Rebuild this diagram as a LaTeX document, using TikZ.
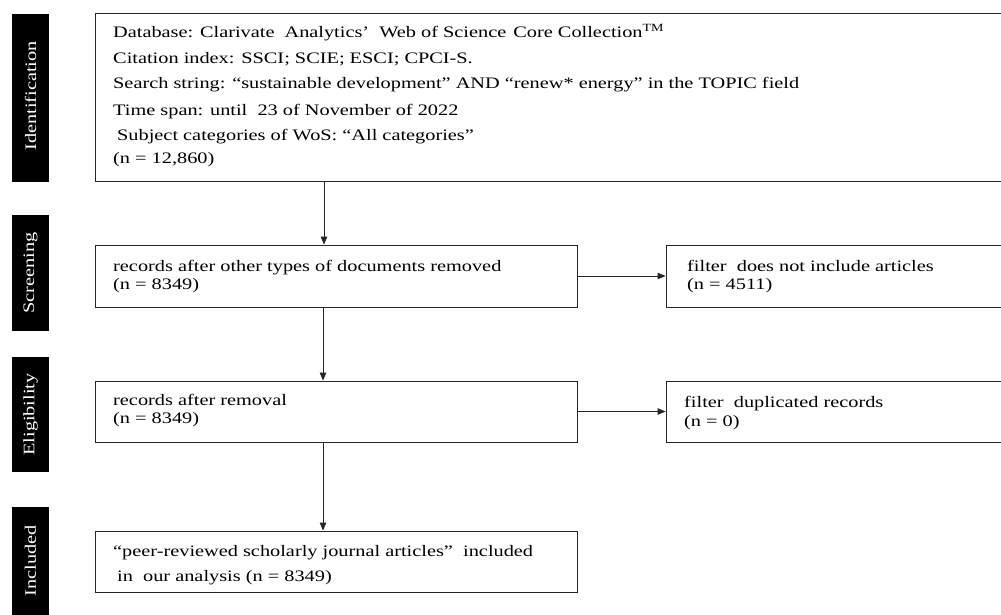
\documentclass[tikz,border=0pt]{standalone}
\usepackage{fontspec}
\setmainfont{Liberation Serif}[FakeStretch=1.27]
\usetikzlibrary{arrows.meta}
\begin{document}
\begin{tikzpicture}[x=1pt,y=-1pt,
  box/.style={draw=black!85, line width=0.8pt, inner sep=0pt},
  lbl/.style={fill=black, inner sep=0pt},
  lbltxt/.style={text=white, rotate=90, inner sep=0pt, font=\fontsize{16}{18}\selectfont},
  txt/.style={anchor=base west, inner sep=0pt, font=\fontsize{16}{18}\selectfont},
  arr/.style={line width=0.8pt, draw=black!85, -{Triangle[length=8pt,width=6.5pt]}}]
\useasboundingbox (0,0) rectangle (1001,615);
% side labels
\node[lbl, minimum width=37pt, minimum height=168pt] (Lid) at (30.5,98) {};
\node[lbltxt] (Tid) at (30.5,96) {Identification};
\node[lbl, minimum width=37pt, minimum height=116pt] (Lsc) at (30.5,273) {};
\node[lbltxt] (Tsc) at (30.5,273) {Screening};
\node[lbl, minimum width=37pt, minimum height=115pt] (Lel) at (30.5,414.5) {};
\node[lbltxt] (Tel) at (30.5,414.5) {Eligibility};
\node[lbl, minimum width=37pt, minimum height=115pt] (Lin) at (30.5,564.5) {};
\node[lbltxt] (Tin) at (30.5,561) {Included};
% boxes
\node[box, minimum width=915pt, minimum height=168pt] (id) at (552.5,97) {};
\node[box, minimum width=482pt, minimum height=62pt] (scr) at (336,276) {};
\node[box, minimum width=344pt, minimum height=62pt] (fa) at (838,276) {};
\node[box, minimum width=482pt, minimum height=61pt] (elg) at (336,411.5) {};
\node[box, minimum width=344pt, minimum height=61pt] (fd) at (838,411.5) {};
\node[box, minimum width=482pt, minimum height=61pt] (inc) at (336,561.5) {};
% texts
\node[txt] (t1) at (113,38) {Database: Clarivate\hspace{10pt}Analytics’\hspace{5pt} Web of Science\hspace{2pt} Core Collection\textsuperscript{\fontsize{11}{12}\selectfont TM}};
\node[txt] (t2) at (113,64) {Citation index: SSCI; SCIE; ESCI; CPCI-S.};
\node[txt] (t3) at (113,89) {Search string: “sustainable development” AND “renew* energy” in the TOPIC field};
\node[txt] (t4) at (113,116) {Time span: until\ \ 23 of November of 2022};
\node[txt] (t5) at (117,140) {Subject categories of WoS: “All categories”};
\node[txt] (t6) at (113,164) {(n = 12,860)};
\node[txt] (s1) at (113,271.5) {records after other types of documents removed};
\node[txt] (s2) at (113,289) {(n = 8349)};
\node[txt] (f1) at (687,271.5) {filter\ \ does not include articles};
\node[txt] (f2) at (687,289) {(n = 4511)};
\node[txt] (e1) at (113,405.5) {records after removal};
\node[txt] (e2) at (113,423) {(n = 8349)};
\node[txt] (d1) at (684,407) {filter\ \ duplicated records};
\node[txt] (d2) at (684,426.5) {(n = 0)};
\node[txt] (i1) at (113,556) {“peer-reviewed scholarly journal articles”\ \ included};
\node[txt] (i2) at (117,581) {in\ \ our analysis (n = 8349)};
% connectors
\draw[arr] ([xshift=-12pt]scr.north |- id.south) -- ([xshift=-12pt]scr.north);
\draw[arr] ([xshift=-13pt]scr.south) -- ([xshift=-13pt]elg.north);
\draw[arr] ([xshift=-13pt]elg.south) -- ([xshift=-13pt]inc.north);
\draw[arr] (scr.east) -- (fa.west);
\draw[arr] (elg.east) -- (fd.west);
\end{tikzpicture}
\end{document}
